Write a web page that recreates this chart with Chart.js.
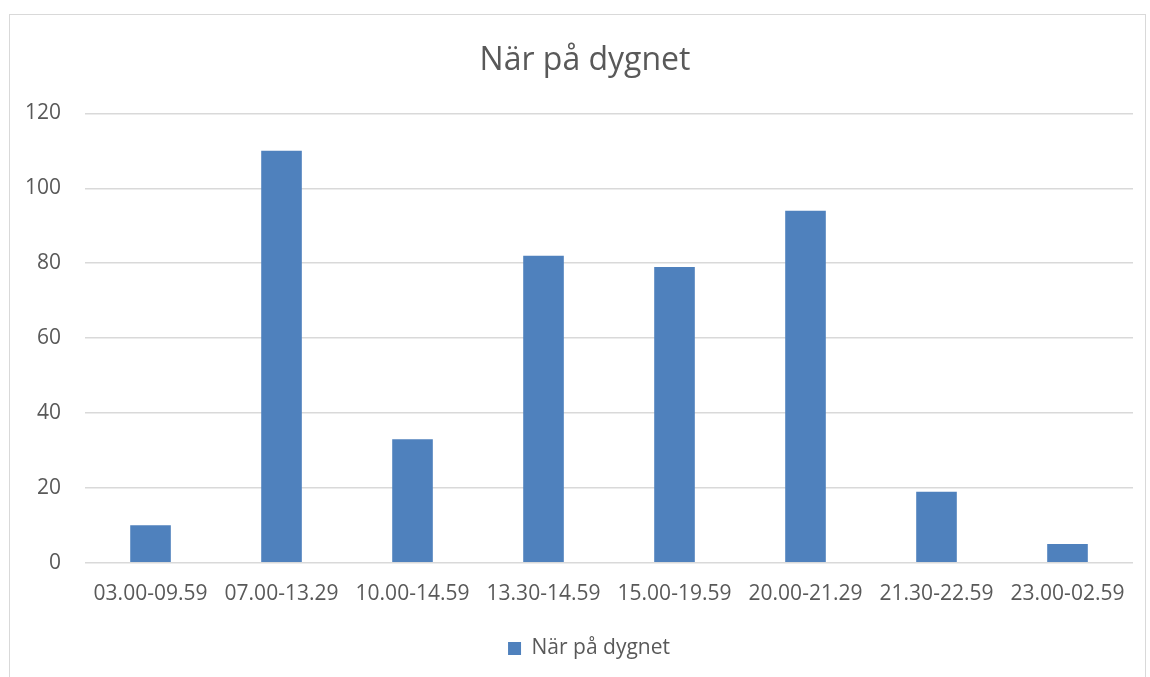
<!DOCTYPE html>
<html lang="sv">
<head>
    <meta charset="UTF-8">
    <title>När på dygnet</title>
    <script src="https://cdn.jsdelivr.net/npm/chart.js"></script>
    <style>
        html, body { margin: 0; padding: 0; background: #fff; }
        .wrap { position: relative; width: 1150px; height: 677px; overflow: hidden; }
        .frame { position: absolute; left: 9px; top: 14px; width: 1137px; height: 700px; border: 1px solid #d9d9d9; box-sizing: border-box; }
        #chart { position: absolute; left: 0; top: 0; }
    </style>
</head>
<body>
<div class="wrap">
    <div class="frame"></div>
    <canvas id="chart" width="1150" height="677"></canvas>
</div>
<script>
    const categories = ["03.00-09.59", "07.00-13.29", "10.00-14.59", "13.30-14.59",
                        "15.00-19.59", "20.00-21.29", "21.30-22.59", "23.00-02.59"];
    const counts = [10, 110, 33, 82, 79, 94, 19, 5];
    const seriesName = "När på dygnet";

    const textColor = "#595959";
    const font = "'Open Sans', sans-serif";

    // excel centres title and legend a bit right of the canvas centre
    const shiftRight = {
        id: "shiftRight",
        afterLayout(chart) {
            chart.legend.left += 22;
            chart.legend.right += 22;
            chart.titleBlock.left += 18;
            chart.titleBlock.right += 18;
        }
    };

    new Chart(document.getElementById("chart"), {
        type: "bar",
        data: {
            labels: categories,
            datasets: [{
                label: seriesName,
                data: counts,
                backgroundColor: "#4f81bd",
                borderWidth: 0,
                barPercentage: 0.31,
                categoryPercentage: 1
            }]
        },
        options: {
            responsive: false,
            animation: false,
            layout: { padding: { left: 1, right: 17, top: 20, bottom: 8 } },
            plugins: {
                title: {
                    display: true,
                    text: seriesName,
                    color: textColor,
                    font: { family: font, size: 32, weight: "normal" },
                    padding: { top: 22, bottom: 33 }
                },
                legend: {
                    position: "bottom",
                    labels: {
                        color: textColor,
                        font: { family: font, size: 21 },
                        boxWidth: 13,
                        boxHeight: 13,
                        padding: 20
                    }
                },
                tooltip: { enabled: false }
            },
            scales: {
                x: {
                    grid: { display: false },
                    border: { display: false },
                    ticks: {
                        color: textColor,
                        font: { family: font, size: 21 },
                        maxRotation: 0,
                        padding: 11
                    }
                },
                y: {
                    min: 0,
                    max: 120,
                    grid: { color: "#d9d9d9", lineWidth: 1.5, drawTicks: false },
                    border: { display: false },
                    ticks: {
                        stepSize: 20,
                        color: textColor,
                        font: { family: font, size: 21 },
                        padding: 24
                    }
                }
            }
        },
        plugins: [shiftRight]
    });
</script>
</body>
</html>
